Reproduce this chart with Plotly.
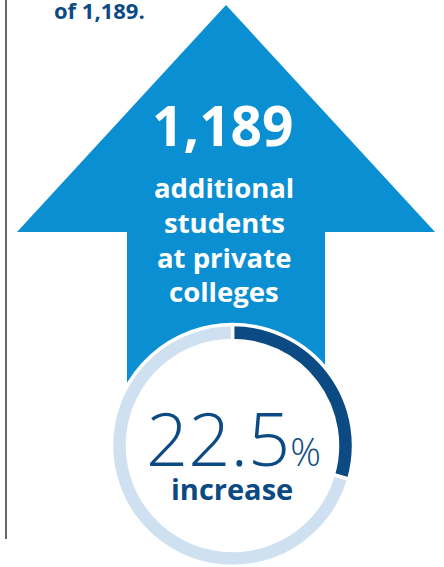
import plotly.graph_objects as go

W, H = 444, 567

# data
ring_labels = ["Increase", "Remainder"]
ring_values = [29.5, 70.5]          # arc share as drawn
ring_colors = ["#0b4a82", "#cfe1f1"]
headline_value = "1,189"
headline_lines = ["additional", "students", "at private", "colleges"]
pct_value = "22.5"
pct_label = "increase"
top_text = "of 1,189."

NAVY = "#0b4a82"
BLUE = "#0a8fd2"
FONT = "Open Sans"

# layout geometry (pixels)
cx, cy, r_out = 232.5, 445.5, 121
arrow_cx = 226
tip_y, base_y = 5, 232
head_half, shaft_half = 209, 99

fig = go.Figure()

fig.add_trace(go.Pie(
    labels=ring_labels, values=ring_values,
    hole=105 / r_out, sort=False, direction="clockwise", rotation=0,
    marker=dict(colors=ring_colors, line=dict(color="white", width=3.5)),
    textinfo="none", hoverinfo="label+value", showlegend=False,
    domain=dict(x=[(cx - r_out) / W, (cx + r_out) / W],
                y=[(H - cy - r_out) / H, (H - cy + r_out) / H]),
))

arrow_path = (
    f"M {arrow_cx} {tip_y} L {arrow_cx + head_half} {base_y} "
    f"L {arrow_cx + shaft_half} {base_y} L {arrow_cx + shaft_half} {cy} "
    f"L {arrow_cx - shaft_half} {cy} L {arrow_cx - shaft_half} {base_y} "
    f"L {arrow_cx - head_half} {base_y} Z"
)

shapes = [
    dict(type="path", path=arrow_path, xref="x", yref="y",
         fillcolor=BLUE, line=dict(width=0), layer="below"),
    dict(type="circle", xref="x", yref="y", x0=cx - 120, x1=cx + 120,
         y0=cy - 120, y1=cy + 120, fillcolor="white", line=dict(width=0),
         layer="below"),
    dict(type="line", xref="x", yref="y", x0=6, x1=6, y0=0, y1=539,
         line=dict(color="#333333", width=1.5), layer="below"),
]

annotations = [
    dict(x=99, y=10, text=f"<b>{top_text}</b>", showarrow=False,
         font=dict(family=FONT, size=22, color=NAVY), xanchor="center",
         yanchor="middle"),
    dict(x=222, y=124, text=f"<b>{headline_value}</b>", showarrow=False,
         font=dict(family=FONT, size=55, color="white"), xanchor="center",
         yanchor="middle"),
]
line_y = [187, 222, 257, 291]
for t, yy in zip(headline_lines, line_y):
    annotations.append(dict(x=224, y=yy, text=f"<b>{t}</b>", showarrow=False,
                            font=dict(family=FONT, size=27.5, color="white"),
                            xanchor="center", yanchor="middle"))
annotations += [
    dict(x=233, y=437,
         text=f"{pct_value}<span style='font-size:38px'>%</span>",
         showarrow=False,
         font=dict(family=FONT, size=74, color=NAVY, weight=300),
         xanchor="center", yanchor="middle"),
    dict(x=232, y=488, text=f"<b>{pct_label}</b>", showarrow=False,
         font=dict(family=FONT, size=29, color=NAVY), xanchor="center",
         yanchor="middle"),
]

fig.update_layout(
    width=W, height=H, margin=dict(l=0, r=0, t=0, b=0),
    paper_bgcolor="white", plot_bgcolor="white",
    xaxis=dict(range=[0, W], visible=False, fixedrange=True),
    yaxis=dict(range=[H, 0], visible=False, fixedrange=True),
    shapes=shapes, annotations=annotations, showlegend=False,
)

fig.write_html("out.html")
